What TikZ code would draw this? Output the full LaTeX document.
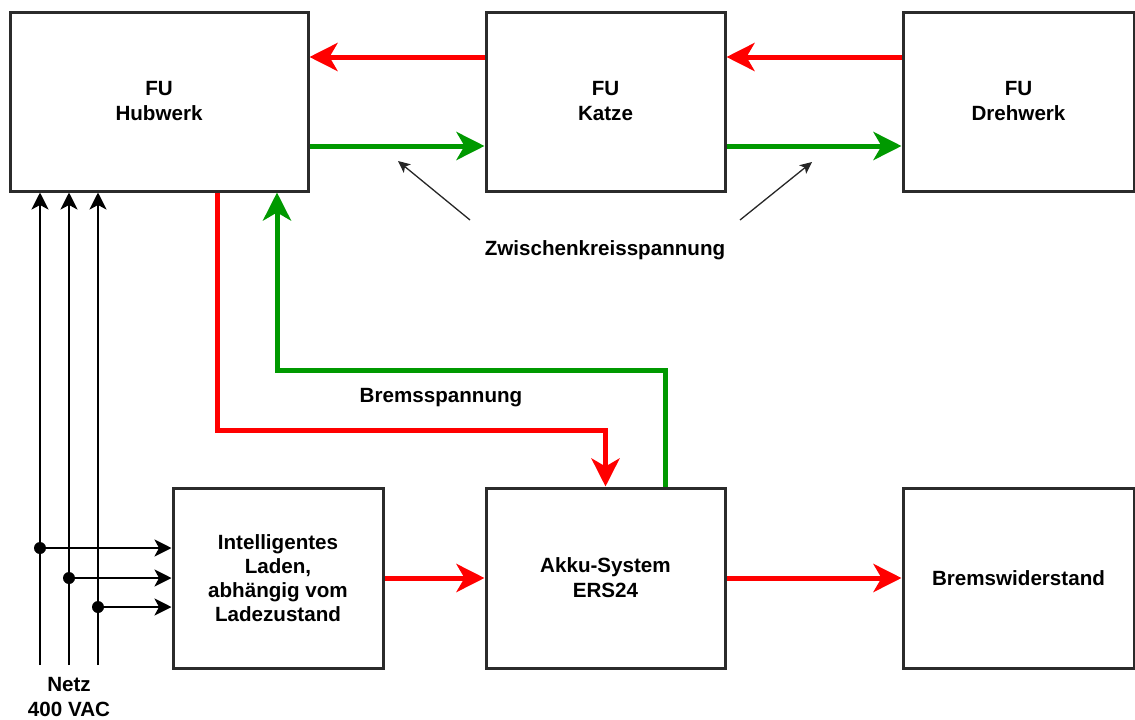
\documentclass[tikz,border=0pt]{standalone}
\usepackage{fontspec}
\setmainfont{Liberation Sans}
\usetikzlibrary{arrows.meta,calc}
\definecolor{myred}{HTML}{FF0000}
\definecolor{mygreen}{HTML}{009900}
\definecolor{boxline}{HTML}{2B2B2B}
\begin{document}
\begin{tikzpicture}[x=1pt,y=-1pt,
  box/.style={draw=boxline,line width=3pt,fill=white,inner sep=0pt,align=center,
    font=\fontsize{20.6}{25}\selectfont\bfseries},
  lbl/.style={inner sep=0pt,align=center,font=\fontsize{20.6}{25}\selectfont\bfseries},
  redarrow/.style={draw=myred,line width=5pt,
    -{Stealth[length=28pt,width=28pt,inset=8pt,fill=myred]}},
  greenarrow/.style={draw=mygreen,line width=5pt,
    -{Stealth[length=28pt,width=28pt,inset=8pt,fill=mygreen]}},
  redline/.style={draw=myred,line width=5pt},
  greenline/.style={draw=mygreen,line width=5pt},
  blackarrow/.style={draw=black,line width=2.6pt,
    -{Stealth[length=17pt,width=17pt,inset=4.5pt]}},
  thinarrow/.style={draw=black!85,line width=1.3pt,
    -{Stealth[length=12pt,width=11pt,inset=3pt]}},
  dot/.style={circle,fill=black,inner sep=0pt,minimum size=12pt}
]
\useasboundingbox (0,0) rectangle (1135,720);

% boxes
\node[box,minimum width=298pt,minimum height=179pt] (hub) at (159,101.5) {FU\\Hubwerk};
\node[box,minimum width=239pt,minimum height=179pt] (kat) at (605.5,101.5) {FU\\Katze};
\node[box,minimum width=231pt,minimum height=179pt] (dreh) at (1018.5,101.5) {FU\\Drehwerk};
\node[box,minimum width=210pt,minimum height=180pt] (lad) at (278,578) {Intelligentes\\[-1pt]Laden,\\[-1pt]abhängig vom\\[-1pt]Ladezustand};
\node[box,minimum width=239pt,minimum height=180pt] (akku) at (605.5,578) {Akku-System\\ERS24};
\node[box,minimum width=231pt,minimum height=180pt] (brems) at (1018.5,578) {Bremswiderstand};

% top arrows
\draw[redarrow] ([yshift=44.5pt]kat.west) -- ([yshift=44.5pt]hub.east);
\draw[redarrow] ([yshift=44.5pt]dreh.west) -- ([yshift=44.5pt]kat.east);
\draw[greenarrow] ([yshift=-44.5pt]hub.east) -- ([yshift=-44.5pt]kat.west);
\draw[greenarrow] ([yshift=-44.5pt]kat.east) -- ([yshift=-44.5pt]dreh.west);

% annotation
\node[lbl] (zk) at (605,250) {Zwischenkreisspannung};
\coordinate (za) at (470,220);
\coordinate (zb) at (740,220);
\coordinate (zat) at (398,161);
\coordinate (zbt) at (812,162);
\draw[thinarrow] (za) -- (zat);
\draw[thinarrow] (zb) -- (zbt);

% brake voltage loop
\coordinate (r1) at (217,430);
\coordinate (g1) at (277,370);
\draw[redarrow] ([xshift=58pt]hub.south) -- (r1) -- (r1 -| akku.north) -- (akku.north);
\draw[greenarrow] ([xshift=59.5pt]akku.north) |- (g1) -- (g1 |- hub.south);
\node[lbl] (bs) at (441,398) {Bremsspannung};

% bottom red arrows
\draw[redarrow] (lad.east) -- (akku.west);
\draw[redarrow] (akku.east) -- (brems.west);

% mains
\coordinate (n1) at (40,665);
\coordinate (n2) at (69,665);
\coordinate (n3) at (98,665);
\draw[blackarrow] (n1) -- (n1 |- hub.south);
\draw[blackarrow] (n2) -- (n2 |- hub.south);
\draw[blackarrow] (n3) -- (n3 |- hub.south);
\node[dot] (d1) at (40,548) {};
\node[dot] (d2) at (69,578) {};
\node[dot] (d3) at (98,607) {};
\draw[blackarrow] (d1.center) -- (d1 -| lad.west);
\draw[blackarrow] (d2.center) -- (d2 -| lad.west);
\draw[blackarrow] (d3.center) -- (d3 -| lad.west);
\node[lbl] (netz) at (69,697) {Netz\\400 VAC};
\end{tikzpicture}
\end{document}
